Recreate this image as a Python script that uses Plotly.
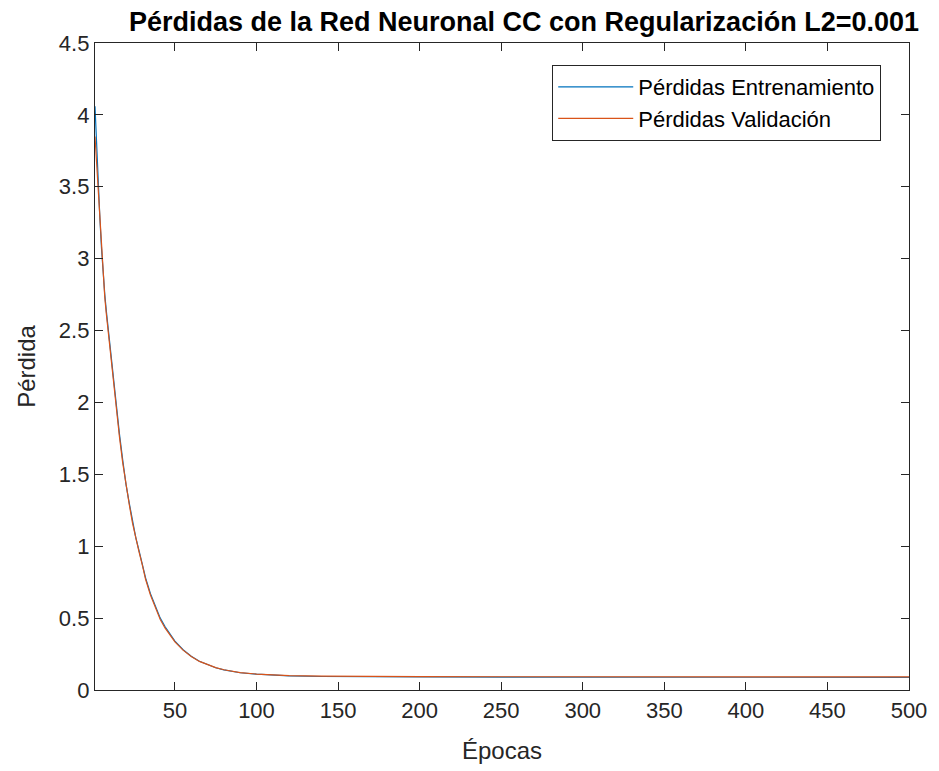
import plotly.graph_objects as go

epochs = [1, 2, 3, 4, 5, 6, 7, 8, 10, 12, 14, 16, 18, 20, 22, 24, 26, 28, 30, 32,
          35, 38, 41, 44, 47, 50, 55, 60, 65, 70, 75, 80, 90, 100, 110, 120, 140,
          160, 200, 250, 300, 350, 400, 450, 500]

train_loss = [4.06, 3.78, 3.52, 3.28, 3.07, 2.89, 2.75, 2.63, 2.42, 2.19, 1.97, 1.78,
              1.60, 1.43, 1.30, 1.17, 1.06, 0.97, 0.88, 0.78, 0.67, 0.58, 0.50, 0.44,
              0.39, 0.34, 0.28, 0.235, 0.20, 0.175, 0.155, 0.14, 0.12, 0.11, 0.102,
              0.098, 0.094, 0.092, 0.091, 0.090, 0.090, 0.089, 0.089, 0.088, 0.088]

val_loss = [3.85, 3.66, 3.45, 3.24, 3.04, 2.87, 2.73, 2.61, 2.40, 2.17, 1.95, 1.76,
            1.58, 1.42, 1.29, 1.16, 1.05, 0.96, 0.87, 0.77, 0.66, 0.57, 0.49, 0.43,
            0.38, 0.335, 0.277, 0.233, 0.199, 0.175, 0.156, 0.141, 0.121, 0.111, 0.104,
            0.100, 0.096, 0.094, 0.093, 0.092, 0.092, 0.092, 0.091, 0.091, 0.091]

x_ticks = [50, 100, 150, 200, 250, 300, 350, 400, 450, 500]
y_ticks = [0, 0.5, 1, 1.5, 2, 2.5, 3, 3.5, 4, 4.5]
y_tick_text = ["0", "0.5", "1", "1.5", "2", "2.5", "3", "3.5", "4", "4.5"]

FONT = "Liberation Sans, Arial, sans-serif"
AX = "#262626"

fig = go.Figure()
fig.add_trace(go.Scatter(x=epochs, y=train_loss, mode="lines", name="Pérdidas Entrenamiento",
                         line=dict(color="#0072BD", width=1.2)))
fig.add_trace(go.Scatter(x=epochs, y=val_loss, mode="lines", name="Pérdidas Validación",
                         line=dict(color="#D95319", width=1.2)))

axis_common = dict(showgrid=False, zeroline=False, showline=True, linecolor=AX, linewidth=1.3,
                   mirror="ticks", ticks="inside", ticklen=8, tickwidth=1.3, tickcolor=AX,
                   tickfont=dict(family=FONT, size=22, color=AX))

fig.update_xaxes(range=[1, 500], tickvals=x_ticks,
                 title=dict(text="Épocas", font=dict(family=FONT, size=24, color=AX), standoff=20),
                 **axis_common)
fig.update_yaxes(range=[0, 4.5], tickvals=y_ticks, ticktext=y_tick_text,
                 title=dict(text="Pérdida", font=dict(family=FONT, size=24, color=AX), standoff=16),
                 **axis_common)

fig.update_layout(
    width=939, height=771,
    margin=dict(l=95, r=25, t=43, b=81),
    paper_bgcolor="white", plot_bgcolor="white",
    title=dict(text="<b>Pérdidas de la Red Neuronal CC con Regularización L2=0.001</b>",
               font=dict(family=FONT, size=27, color="black"),
               x=524 / 939, xanchor="center", y=1 - 22 / 771, yanchor="middle"),
    legend=dict(x=0.5617, y=0.966, xanchor="left", yanchor="top",
                bordercolor=AX, borderwidth=1, bgcolor="white",
                font=dict(family=FONT, size=22, color="black"),
                itemwidth=75, tracegroupgap=0),
    showlegend=True,
)

fig.write_html("out.html")
